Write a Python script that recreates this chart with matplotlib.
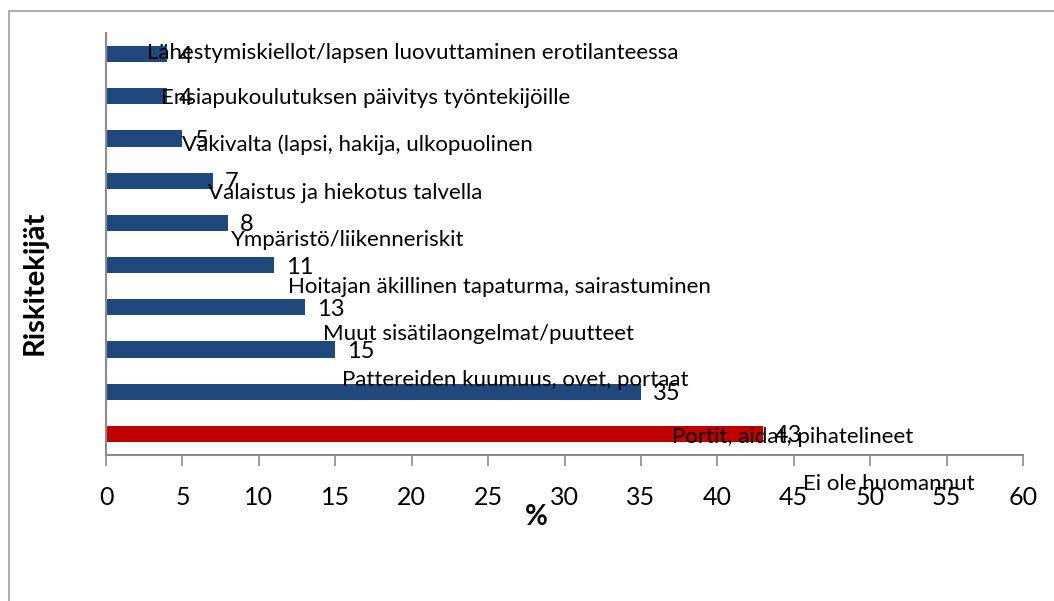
import matplotlib
matplotlib.use('Agg')
import matplotlib.pyplot as plt
from matplotlib.patches import Rectangle
import numpy as np

# categories listed bottom -> top (as drawn)
categories = ['Ei ole huomannut',
              'Portit, aidat, pihatelineet',
              'Pattereiden kuumuus, ovet, portaat',
              'Muut sisätilaongelmat/puutteet',
              'Hoitajan äkillinen tapaturma, sairastuminen',
              'Ympäristö/liikenneriskit',
              'Valaistus ja hiekotus talvella',
              'Väkivalta (lapsi, hakija, ulkopuolinen',
              'Ensiapukoulutuksen päivitys työntekijöille',
              'Lähestymiskiellot/lapsen luovuttaminen erotilanteessa']
values = [43, 35, 15, 13, 11, 8, 7, 5, 4, 4]
xticks = [0, 5, 10, 15, 20, 25, 30, 35, 40, 45, 50, 55, 60]

# the category labels in the original drift away from their bars;
# offsets in pixels from the end of bar i (bars counted bottom -> top)
cat_offsets = [(40, -50), (31, -45), (7, -31), (18, -27), (14, -22),
               (3, -17), (-5, -12), (0, -6), (-6, -2), (-20, 1)]

plt.rcParams['font.family'] = ['Lato', 'DejaVu Sans']
fs = 16
blue = '#1F497D'
red = '#C00000'
gray = '#8C8C8C'

fig = plt.figure(figsize=(10.54, 6.01), dpi=100)
W, H = 1054, 601
ax = fig.add_axes([106 / W, 1 - 455 / H, (1023 - 106) / W, (455 - 33) / H])

# outer chart frame
fig.patches.append(Rectangle((9 / W, -0.1), 1.2, 1 - 11 / H + 0.1, transform=fig.transFigure,
                             fill=False, edgecolor='#A0A0A0', linewidth=1.2))

ypos = np.arange(len(values))
colors = [red] + [blue] * (len(values) - 1)
ax.barh(ypos, values, height=0.38, color=colors)

for i, v in enumerate(values):
    ax.annotate(str(v), (v, i), xytext=(12, -2), textcoords='offset pixels',
                ha='left', va='center', fontsize=17)
    dx, dy = cat_offsets[i]
    ax.annotate(categories[i], (v, i), xytext=(dx, dy), textcoords='offset pixels',
                ha='left', va='center', fontsize=fs, annotation_clip=False)

ax.set_xlim(0, 60)
ax.set_ylim(-0.5, len(values) - 0.5)
ax.set_xticks(xticks)
ax.set_xticklabels([str(t) for t in xticks], fontsize=18)
ax.set_yticks([])
ax.tick_params(axis='x', direction='out', length=8, width=1.2, color=gray, pad=14)
for s in ['top', 'right']:
    ax.spines[s].set_visible(False)
for s in ['left', 'bottom']:
    ax.spines[s].set_color(gray)
    ax.spines[s].set_linewidth(1.5)

fig.text(536 / W, 1 - 517 / H, '%', ha='center', va='center', fontsize=20, fontweight='bold')
fig.text(35 / W, 1 - 283 / H, 'Riskitekijät', ha='center', va='center', rotation=90,
         fontsize=21, fontweight='bold')

fig.savefig('out.png', dpi=100)
